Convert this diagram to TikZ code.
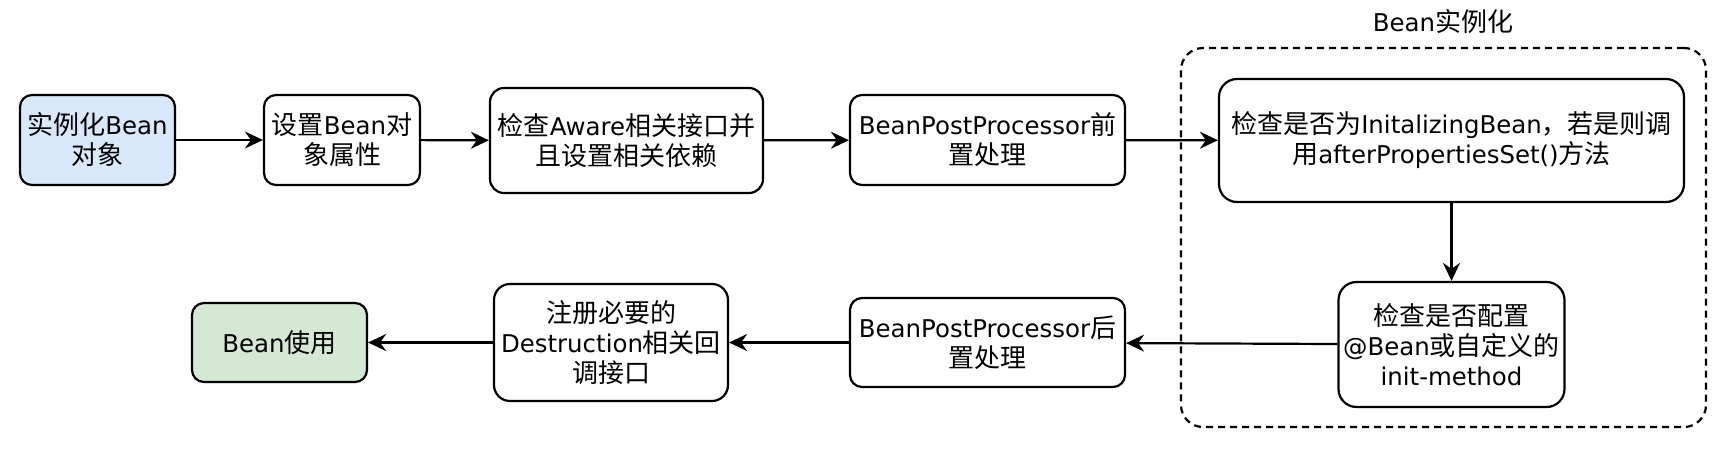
\documentclass[tikz,border=0pt]{standalone}
\usepackage{fontspec}
\setmainfont{Noto Sans CJK SC}
\newfontfamily\latfont{DejaVu Sans}[Scale=0.94]
\newcommand\lt[1]{{\latfont #1}}
\usetikzlibrary{arrows.meta}
\definecolor{bluefill}{HTML}{DAE8FC}
\definecolor{greenfill}{HTML}{D5E8D4}
\begin{document}
\begin{tikzpicture}[x=1pt,y=-1pt,
  txt/.style={font=\fontsize{26}{30}\selectfont, align=center, inner sep=0pt},
  box/.style={txt, draw=black, line width=2.2pt, rounded corners=12pt},
  arr/.style={-{Stealth[length=18pt,width=17pt,inset=6pt]}, line width=2.2pt},
  grpbox/.style={draw=black, line width=2.2pt, dash pattern=on 7pt off 5pt, rounded corners=22pt, inner sep=0pt}]
\useasboundingbox (0,0) rectangle (1726,450);
% group container
\node[grpbox, minimum width=525pt, minimum height=379pt] (grp) at (1443.5,237.5) {};
\node[txt] (title) at (1443,22) {\lt{Bean}实例化};
% row 1
\node[box, fill=bluefill, minimum width=155pt, minimum height=90pt] (b1) at (97.5,140) {实例化\lt{Bean}\\对象};
\node[box, minimum width=156pt, minimum height=90pt] (b2) at (342,140) {设置\lt{Bean}对\\象属性};
\node[box, minimum width=273pt, minimum height=105pt, rounded corners=14pt] (b3) at (626.5,140.5) {检查\lt{Aware}相关接口并\\且设置相关依赖};
\node[box, minimum width=275pt, minimum height=90pt] (b4) at (987.5,140) {\lt{BeanPostProcessor}前\\置处理};
\node[box, minimum width=465pt, minimum height=123pt, rounded corners=18pt] (b5) at (1451.5,140.5) {检查是否为\lt{InitalizingBean}，若是则调\\用\lt{afterPropertiesSet()}方法};
% row 2
\node[box, minimum width=226pt, minimum height=125pt, rounded corners=18pt] (b6) at (1451.5,344.5) {检查是否配置\\\lt{@Bean}或自定义的\\\lt{init-method}};
\node[box, minimum width=275pt, minimum height=89pt] (b7) at (987.5,342.5) {\lt{BeanPostProcessor}后\\置处理};
\node[box, minimum width=234pt, minimum height=117pt, rounded corners=16pt] (b8) at (611,342.5) {注册必要的\\\lt{Destruction}相关回\\调接口};
\node[box, fill=greenfill, minimum width=175pt, minimum height=79pt] (b9) at (279.5,342.5) {\lt{Bean}使用};
% connectors
\draw[arr] (b1) -- (b2);
\draw[arr] (b2) -- (b3);
\draw[arr] (b3) -- (b4);
\draw[arr] (b4) -- (b5);
\draw[arr] (b5) -- (b6);
\draw[arr] (b6) -- (b7);
\draw[arr] (b7) -- (b8);
\draw[arr] (b8) -- (b9);
\end{tikzpicture}
\end{document}
